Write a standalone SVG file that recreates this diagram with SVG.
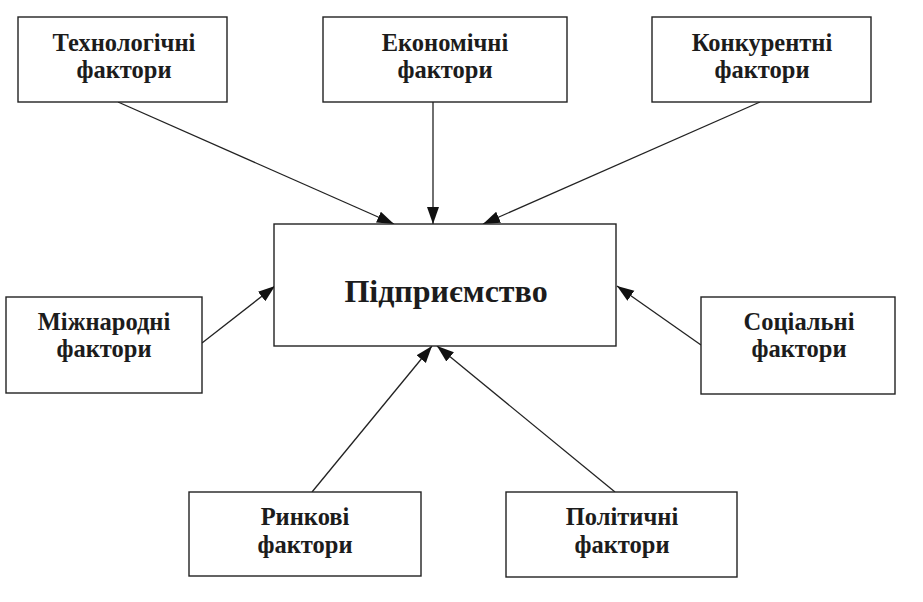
<svg xmlns="http://www.w3.org/2000/svg" width="923" height="602" viewBox="0 0 923 602">
<style>
.box{fill:#fff;stroke:#222;stroke-width:1.4}
.lbl{font-family:"Liberation Serif","Times New Roman",serif;font-weight:bold;font-size:24.5px;fill:#1c1c1c;text-anchor:middle}
.main{font-size:32px}
.con{stroke:#222;stroke-width:1.3;fill:none;marker-end:url(#ah)}
</style>
<defs>
<marker id="ah" markerUnits="userSpaceOnUse" markerWidth="18" markerHeight="14" viewBox="0 0 18 14" refX="17" refY="7" orient="auto">
<path d="M0,1 L17,7 L0,13 Z" fill="#111"/>
</marker>
</defs>
<rect width="923" height="602" fill="#fff"/>
<g id="connectors">
<line class="con" x1="118" y1="102" x2="394" y2="224"/>
<line class="con" x1="433" y1="102" x2="433" y2="224"/>
<line class="con" x1="760" y1="102" x2="483" y2="224"/>
<line class="con" x1="202" y1="343" x2="275" y2="286"/>
<line class="con" x1="701" y1="345" x2="617" y2="286"/>
<line class="con" x1="312" y1="492" x2="432" y2="346"/>
<line class="con" x1="615" y1="492" x2="437" y2="346"/>
</g>
<g id="tech">
<rect class="box" x="18" y="17" width="209" height="85"/>
<text class="lbl" x="124" y="51">Технологічні</text>
<text class="lbl" x="124" y="78">фактори</text>
</g>
<g id="econ">
<rect class="box" x="323" y="17" width="244" height="85"/>
<text class="lbl" x="445" y="51">Економічні</text>
<text class="lbl" x="445" y="78">фактори</text>
</g>
<g id="konk">
<rect class="box" x="652" y="17" width="219" height="85"/>
<text class="lbl" x="762" y="51">Конкурентні</text>
<text class="lbl" x="762" y="78">фактори</text>
</g>
<g id="main">
<rect class="box" x="274" y="224" width="342" height="122"/>
<text class="lbl main" x="446" y="302">Підприємство</text>
</g>
<g id="mizh">
<rect class="box" x="6" y="297" width="196" height="96"/>
<text class="lbl" x="104" y="330">Міжнародні</text>
<text class="lbl" x="104" y="357">фактори</text>
</g>
<g id="soc">
<rect class="box" x="701" y="297" width="194" height="97"/>
<text class="lbl" x="799" y="330">Соціальні</text>
<text class="lbl" x="799" y="357">фактори</text>
</g>
<g id="rynk">
<rect class="box" x="189" y="492" width="232" height="84"/>
<text class="lbl" x="305" y="525">Ринкові</text>
<text class="lbl" x="305" y="553">фактори</text>
</g>
<g id="polit">
<rect class="box" x="506" y="492" width="231" height="85"/>
<text class="lbl" x="622" y="525">Політичні</text>
<text class="lbl" x="622" y="553">фактори</text>
</g>
</svg>
